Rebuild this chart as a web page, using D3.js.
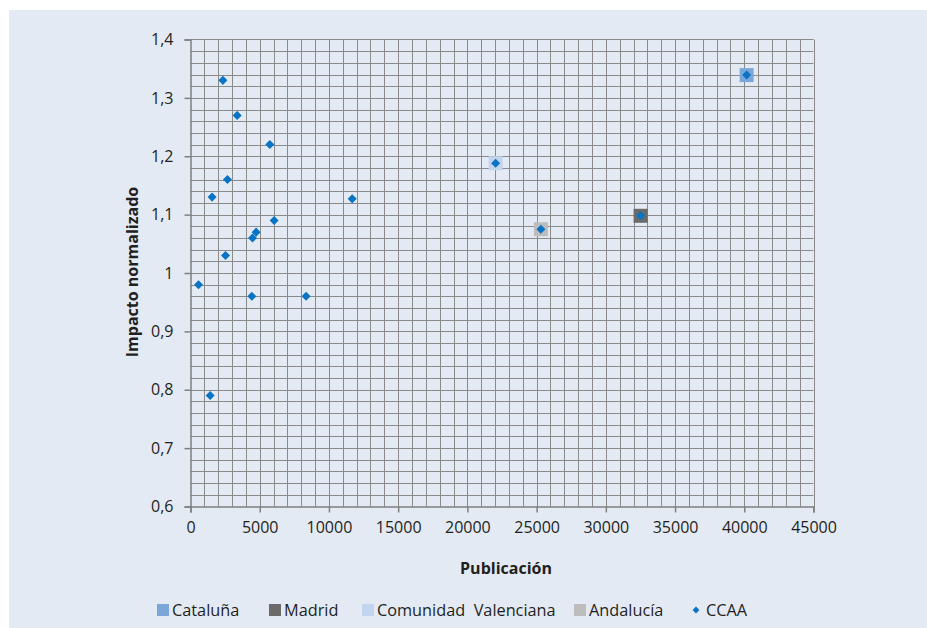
<!DOCTYPE html>
<html lang="es">
<head>
<meta charset="UTF-8" />
<title>Impacto normalizado vs Publicación</title>
<script src="https://d3js.org/d3.v7.min.js"></script>
<style>
  body { margin: 0; background: #fff; }
  svg { display: block; }
  svg text { font-family: "Open Sans", "Noto Sans", sans-serif; fill: #231f20; }
</style>
</head>
<body>
<div id="chart"></div>
<script>
// CCAA (all regions), publications vs normalized impact
var ccaaPub = [2340, 3370, 5730, 2670, 1560, 6040, 4740, 4480, 2530, 580, 4430, 8350, 1420, 11680, 22040, 25310, 32510, 40170];
var ccaaImp = [1.33, 1.27, 1.22, 1.16, 1.13, 1.09, 1.07, 1.06, 1.03, 0.98, 0.96, 0.96, 0.79, 1.127, 1.188, 1.075, 1.098, 1.339];

// highlighted regions
var regionNames = ["Cataluña", "Madrid", "Comunidad  Valenciana", "Andalucía"];
var regionPub = [40170, 32510, 22040, 25310];
var regionImp = [1.339, 1.098, 1.188, 1.075];
var regionColors = ["#7aa6da", "#6b6b6b", "#c3d4ee", "#bdbdbd"];

var xTicks = [0, 5000, 10000, 15000, 20000, 25000, 30000, 35000, 40000, 45000];
var yTicks = [0.6, 0.7, 0.8, 0.9, 1, 1.1, 1.2, 1.3, 1.4];

var w = 927, h = 628;
var svg = d3.select("#chart").append("svg").attr("width", w).attr("height", h);

svg.append("rect").attr("x", 9).attr("y", 10).attr("width", w - 9).attr("height", h - 10)
  .attr("fill", "#e4eaf4");

var x = d3.scaleLinear().domain([0, 45000]).range([190.5, 813.5]);
var y = d3.scaleLinear().domain([0.6, 1.4]).range([506.5, 39.5]);

// grid (minor every 1000 / 0.02)
var grid = svg.append("g");
grid.selectAll("line.vx")
  .data(d3.range(1000, 45001, 1000))
  .enter().append("line")
  .attr("x1", function(d) { return Math.round(x(d)) + 0.5; })
  .attr("x2", function(d) { return Math.round(x(d)) + 0.5; })
  .attr("y1", y(1.4)).attr("y2", y(0.6))
  .attr("stroke", "#8a8a8a")
  .attr("stroke-width", 1);
grid.selectAll("line.hy")
  .data(d3.range(31, 71).map(function(i) { return i * 0.02; }))
  .enter().append("line")
  .attr("y1", function(d) { return Math.round(y(d)) + 0.5; })
  .attr("y2", function(d) { return Math.round(y(d)) + 0.5; })
  .attr("x1", x(0)).attr("x2", x(45000))
  .attr("stroke", "#8a8a8a")
  .attr("stroke-width", 1);

// axes
var xAxis = svg.append("g").attr("transform", "translate(0," + y(0.6) + ")")
  .call(d3.axisBottom(x).tickValues(xTicks).tickSize(6).tickPadding(9)
    .tickFormat(function(d) { return d; }));
var yAxis = svg.append("g").attr("transform", "translate(" + x(0) + ",0)")
  .call(d3.axisLeft(y).tickValues(yTicks).tickSize(6).tickPadding(11)
    .tickFormat(function(d) { return String(d).replace(".", ","); }));
[xAxis, yAxis].forEach(function(a) {
  a.attr("font-size", null);
  a.select(".domain").attr("stroke", "#7f7f7f").attr("stroke-width", 1.5);
  a.selectAll(".tick line").attr("stroke", "#7f7f7f").attr("stroke-width", 1.5);
  a.selectAll("text").style("font-size", "16px").attr("fill", "#231f20");
});

// axis titles
svg.append("text").attr("x", 506).attr("y", 574)
  .attr("text-anchor", "middle").style("font-size", "16px").attr("font-weight", "bold")
  .text("Publicación");
svg.append("text")
  .attr("transform", "translate(138,272) rotate(-90)")
  .attr("text-anchor", "middle").style("font-size", "16px").attr("font-weight", "bold")
  .text("Impacto normalizado");

// region squares
svg.selectAll("rect.reg")
  .data(regionNames)
  .enter().append("rect")
  .attr("x", function(d, i) { return x(regionPub[i]) - 7; })
  .attr("y", function(d, i) { return y(regionImp[i]) - 7; })
  .attr("width", 14).attr("height", 14)
  .attr("fill", function(d, i) { return regionColors[i]; });

// CCAA diamonds
var diamond = d3.symbol().type(d3.symbolDiamond2).size(52);
svg.selectAll("path.ccaa")
  .data(ccaaPub)
  .enter().append("path")
  .attr("d", diamond)
  .attr("transform", function(d, i) { return "translate(" + x(d) + "," + y(ccaaImp[i]) + ")"; })
  .attr("fill", "#0a74c4");

// legend
var legX = [157, 269, 362, 574];
var legend = svg.append("g");
regionNames.forEach(function(n, i) {
  legend.append("rect").attr("x", legX[i]).attr("y", 604).attr("width", 12).attr("height", 12)
    .attr("fill", regionColors[i]);
  legend.append("text").attr("x", legX[i] + 15).attr("y", 616)
    .style("font-size", "16.3px").style("white-space", "pre").text(n);
});
legend.append("path").attr("d", d3.symbol().type(d3.symbolDiamond2).size(30))
  .attr("transform", "translate(696,610)").attr("fill", "#0a74c4");
legend.append("text").attr("x", 706).attr("y", 616).style("font-size", "16.3px").text("CCAA");
</script>
</body>
</html>
